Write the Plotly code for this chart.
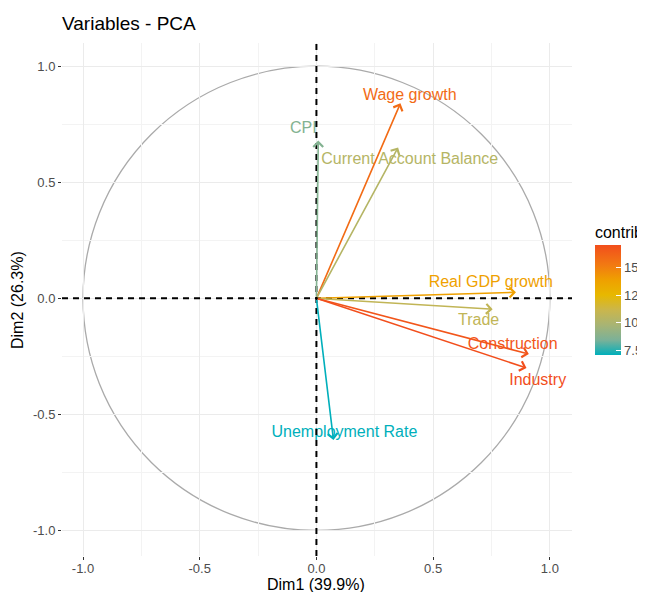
import plotly.graph_objects as go
from plotly.colors import sample_colorscale

variables = ["Wage growth", "CPI", "Current Account Balance", "Real GDP growth",
             "Trade", "Construction", "Industry", "Unemployment Rate"]
dim1 = [0.36, 0.008, 0.35, 0.855, 0.755, 0.91, 0.90, 0.073]
dim2 = [0.84, 0.68, 0.65, 0.026, -0.047, -0.24, -0.30, -0.61]
contrib = [15.8, 8.7, 10.3, 13.8, 10.8, 16.7, 17.0, 7.1]
# repelled label positions (data units)
label_x = [0.40, -0.056, 0.40, 0.747, 0.695, 0.841, 0.948, 0.12]
label_y = [0.873, 0.731, 0.594, 0.065, -0.099, -0.202, -0.357, -0.581]
tick_vals = [-1.0, -0.5, 0.0, 0.5, 1.0]
tick_text = ["-1.0", "-0.5", "0.0", "0.5", "1.0"]
cbar_vals = [7.5, 10.0, 12.5, 15.0]
cbar_text = ["7.5", "10.0", "12.5", "15.0"]

cmin, cmax = 7.1, 17.0
# gradient2 (low #00AFBB, mid #E7B800 at mean, high #FC4E07), Lab-like interpolation
colorscale = [[0.0, "#00AFBB"], [0.136, "#7BB198"], [0.273, "#A8B474"], [0.409, "#CAB64C"],
              [0.545, "#E7B800"], [0.682, "#EFA000"], [0.818, "#F27A12"], [1.0, "#F24E1C"]]
norm = [(c - cmin) / (cmax - cmin) for c in contrib]
colors = sample_colorscale(colorscale, norm)

FONT = "Liberation Sans, Arial, sans-serif"
W, H = 637, 584           # page has an 8px body margin
L, R, T, B = 54, 73, 35, 36
PW, PH = W - L - R, H - T - B

fig = go.Figure()

fig.add_trace(go.Scatter(
    x=dim1, y=dim2, mode="markers", hoverinfo="skip", showlegend=False,
    marker=dict(size=0.1, color=contrib, colorscale=colorscale, cmin=cmin, cmax=cmax,
                showscale=True,
                colorbar=dict(
                    title=dict(text="contrib", side="top", font=dict(size=16, color="black", family=FONT)),
                    thickness=26, len=132, lenmode="pixels",
                    x=1.045, xanchor="left", xpad=0, ypad=0,
                    y=(PH - (355 - 8 - T)) / PH, yanchor="bottom",
                    tickvals=cbar_vals, ticktext=cbar_text,
                    ticks="inside", ticklen=5, tickcolor="white", tickwidth=1,
                    tickfont=dict(size=13, color="#4d4d4d", family=FONT),
                    outlinewidth=0,
                ))))

fig.add_trace(go.Scatter(
    x=label_x, y=label_y, mode="text", text=variables, hoverinfo="skip", showlegend=False,
    textfont=dict(size=16, color=colors, family=FONT)))

shapes = [
    dict(type="circle", xref="x", yref="y", x0=-1, y0=-1, x1=1, y1=1,
         line=dict(color="#aaaaaa", width=1.3), layer="below"),
    dict(type="line", xref="x", yref="paper", x0=0, x1=0, y0=0, y1=1,
         line=dict(color="black", width=2, dash="6px,5px")),
    dict(type="line", xref="paper", yref="y", x0=0, x1=1, y0=0, y1=0,
         line=dict(color="black", width=2, dash="6px,5px")),
]

annotations = []
for xv, yv, col in zip(dim1, dim2, colors):
    annotations.append(dict(
        x=xv, y=yv, ax=0, ay=0, xref="x", yref="y", axref="x", ayref="y",
        text="", showarrow=True, arrowhead=4, arrowsize=1.2, arrowwidth=1.6,
        arrowcolor=col, standoff=0, startstandoff=0))

# axis titles
annotations.append(dict(text="Dim1 (39.9%)", xref="paper", yref="paper",
                        x=(316 - 8 - L) / PW, y=-(584 - 8 - (T + PH)) / PH,
                        xanchor="center", yanchor="middle", showarrow=False,
                        font=dict(size=16, color="black", family=FONT)))
annotations.append(dict(text="Dim2 (26.3%)", xref="paper", yref="paper",
                        x=-(L - (17 - 8)) / PW, y=(PH - (300 - 8 - T)) / PH, textangle=-90,
                        xanchor="center", yanchor="middle", showarrow=False,
                        font=dict(size=16, color="black", family=FONT)))

axis_common = dict(
    showgrid=True, gridcolor="#ebebeb", gridwidth=1.2, zeroline=False,
    showline=False, ticks="outside", ticklen=3, tickcolor="#333333", tickwidth=1.2,
    tickfont=dict(size=13, color="#4d4d4d", family=FONT),
    tickvals=tick_vals, ticktext=tick_text,
    minor=dict(tickvals=[-0.75, -0.25, 0.25, 0.75], showgrid=True, gridcolor="#f3f3f3",
               gridwidth=0.8, ticks=""),
    automargin=False,
)

fig.update_layout(
    width=W, height=H,
    margin=dict(l=L, r=R, t=T, b=B, autoexpand=False),
    paper_bgcolor="white", plot_bgcolor="white",
    font=dict(family=FONT),
    title=dict(text="Variables - PCA", x=L / W, xanchor="left", xref="container",
               y=1 - 15 / H, yanchor="middle", yref="container",
               font=dict(size=19, color="black", family=FONT)),
    xaxis=dict(range=[-1.09, 1.095], ticklabelstandoff=-3, **axis_common),
    yaxis=dict(range=[-1.11, 1.10], **axis_common),
    shapes=shapes,
    annotations=annotations,
    showlegend=False,
)

fig.write_html("out.html")
